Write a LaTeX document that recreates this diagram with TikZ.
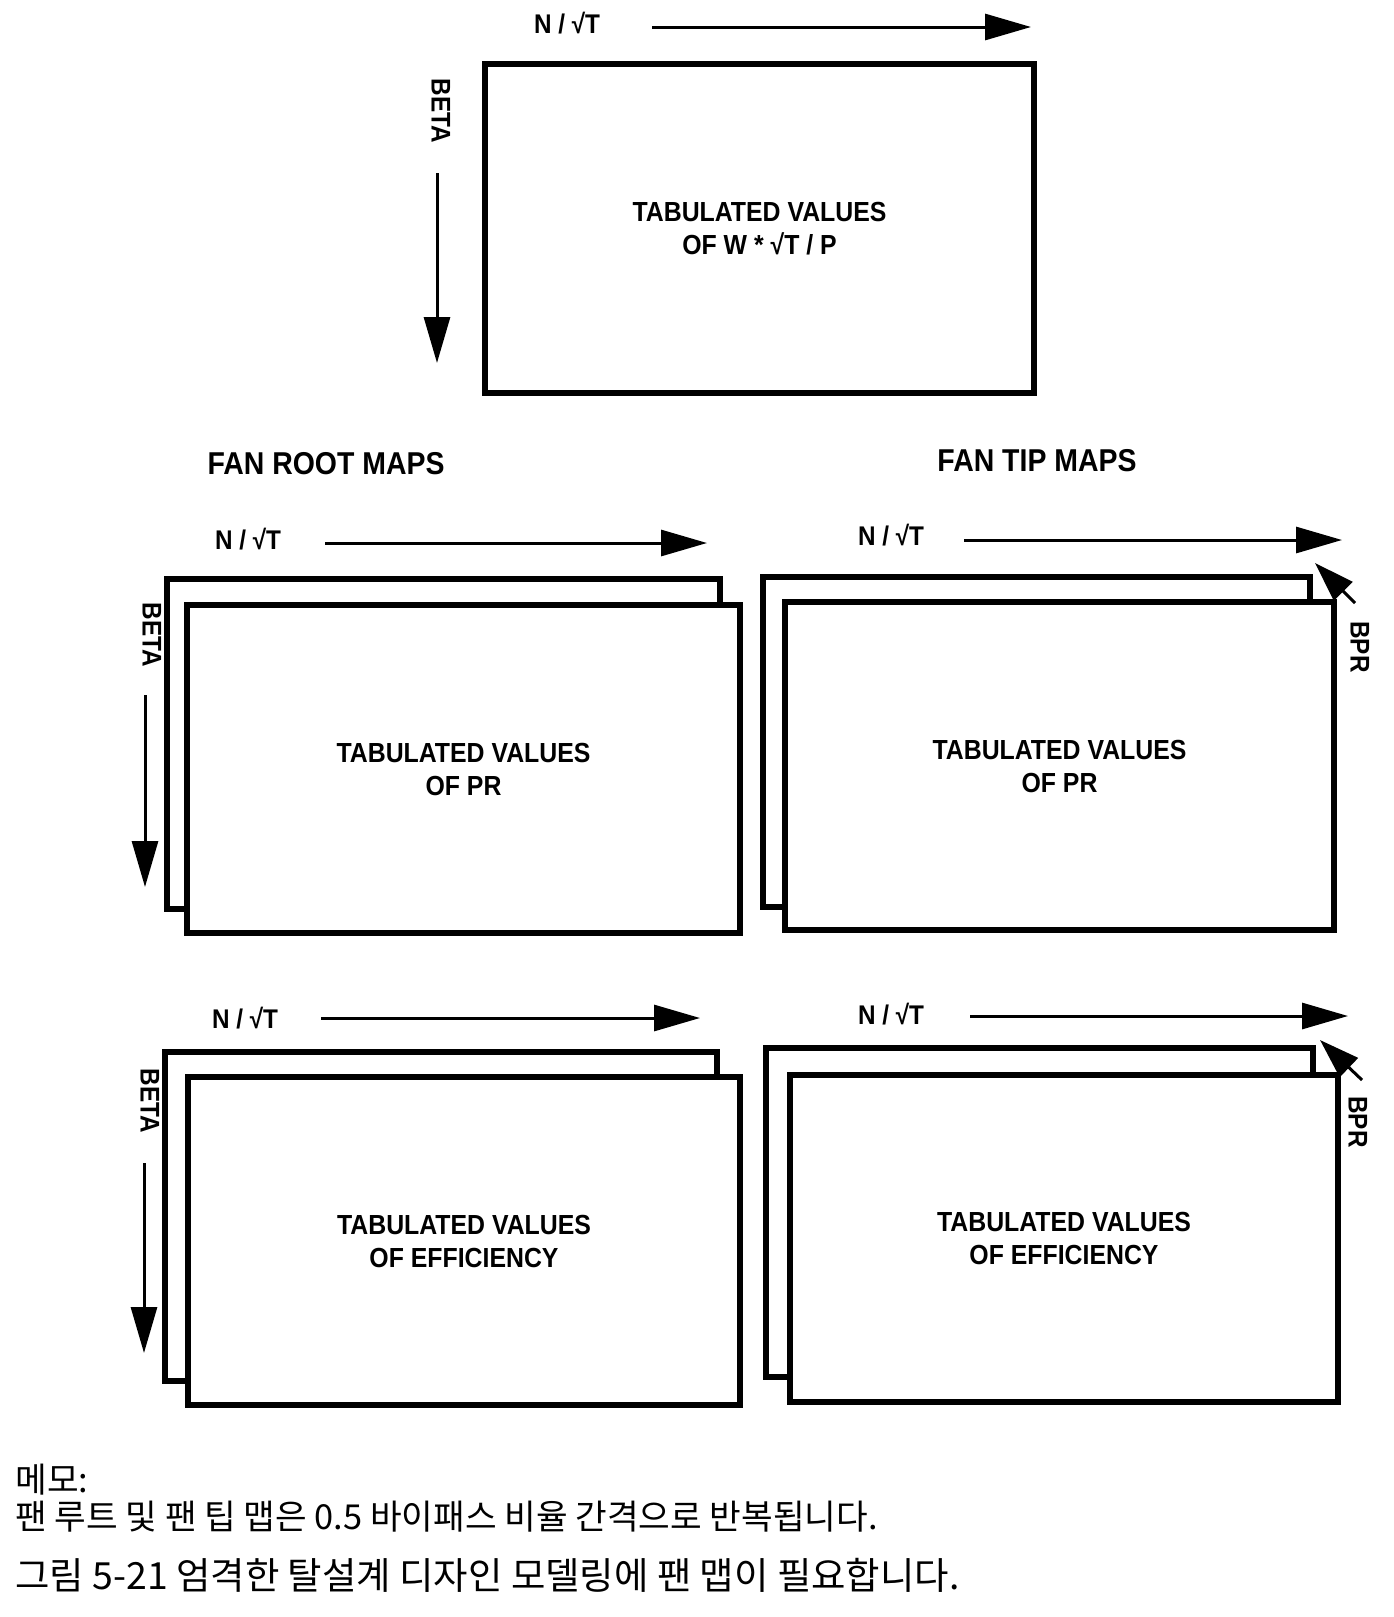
\documentclass[tikz,border=0pt]{standalone}
\usepackage{fontspec}
\setmainfont{Liberation Sans}
\newfontfamily\mapfont[FakeStretch=0.9]{Liberation Sans}
\newfontfamily\kofont{Noto Sans CJK KR}
\usetikzlibrary{arrows.meta}

\begin{document}
\begin{tikzpicture}[
  x=0.5pt,y=-0.5pt,
  card/.style={rectangle,draw,line width=3.4pt,fill=white,align=center,inner sep=0pt,
    font=\mapfont\bfseries\fontsize{13.8}{16.5}\selectfont},
  axlbl/.style={inner sep=0pt,font=\mapfont\bfseries\fontsize{13.5}{15}\selectfont},
  heading/.style={inner sep=0pt,font=\mapfont\bfseries\fontsize{15.8}{18}\selectfont},
  axis/.style={line width=1.5pt,-{Triangle[length=23pt,width=13pt]}},
  note/.style={anchor=west,inner sep=0pt}
]
\useasboundingbox (0,0) rectangle (1393,1617);

% top map
\node[card,minimum width=274.5pt,minimum height=164.5pt] (wmap) at (759.5,228.5) {TABULATED VALUES\\OF W * √T / P};
\node[axlbl] (wn) at (567,23) {N / √T};
\node[axlbl,rotate=-90] (wbeta) at (441,111) {BETA};
\coordinate (wnA) at (652,27);
\coordinate (wnB) at (1031,27);
\coordinate (wbetaA) at (437,173);
\coordinate (wbetaB) at (437,363);
\draw[axis] (wnA) -- (wnB);
\draw[axis] (wbetaA) -- (wbetaB);

\node[heading] (roothead) at (326,464) {FAN ROOT MAPS};
\node[heading] (tiphead) at (1037,461) {FAN TIP MAPS};

% fan root, pressure ratio
\node[card,minimum width=276.5pt,minimum height=165pt] (rootprback) at (443.5,744) {};
\node[card,minimum width=276.5pt,minimum height=164pt] (rootpr) at (463.5,769) {TABULATED VALUES\\OF PR};
\node[axlbl] (rootprn) at (248,539) {N / √T};
\node[axlbl,rotate=-90] (rootprbeta) at (152,635) {BETA};
\coordinate (rootprnA) at (325,543);
\coordinate (rootprnB) at (707,543);
\coordinate (rootprbetaA) at (145,695);
\coordinate (rootprbetaB) at (145,887);
\draw[axis] (rootprnA) -- (rootprnB);
\draw[axis] (rootprbetaA) -- (rootprbetaB);

% fan tip, pressure ratio
\node[card,minimum width=273.5pt,minimum height=165pt] (tipprback) at (1036.5,742) {};
\node[card,minimum width=274.5pt,minimum height=164pt] (tippr) at (1059.5,766) {TABULATED VALUES\\OF PR};
\node[axlbl] (tipprn) at (891,535) {N / √T};
\node[axlbl,rotate=-90] (tipprbpr) at (1360,647) {BPR};
\coordinate (tipprnA) at (964,540);
\coordinate (tipprnB) at (1342,540);
\coordinate (tipprbprA) at (1355,603);
\coordinate (tipprbprB) at (1315,563);
\draw[axis] (tipprnA) -- (tipprnB);
\draw[axis,-{Triangle[length=20pt,width=13pt]}] (tipprbprA) -- (tipprbprB);

% fan root, efficiency
\node[card,minimum width=276pt,minimum height=164.5pt] (rooteffback) at (441,1216.5) {};
\node[card,minimum width=276pt,minimum height=164pt] (rooteff) at (464,1241) {TABULATED VALUES\\OF EFFICIENCY};
\node[axlbl] (rooteffn) at (245,1018) {N / √T};
\node[axlbl,rotate=-90] (rooteffbeta) at (150,1101) {BETA};
\coordinate (rooteffnA) at (321,1018);
\coordinate (rooteffnB) at (700,1018);
\coordinate (rooteffbetaA) at (144,1163);
\coordinate (rooteffbetaB) at (144,1353);
\draw[axis] (rooteffnA) -- (rooteffnB);
\draw[axis] (rooteffbetaA) -- (rooteffbetaB);

% fan tip, efficiency
\node[card,minimum width=273.5pt,minimum height=164.5pt] (tipeffback) at (1039.5,1212.5) {};
\node[card,minimum width=274pt,minimum height=163.5pt] (tipeff) at (1064,1238.5) {TABULATED VALUES\\OF EFFICIENCY};
\node[axlbl] (tipeffn) at (891,1014) {N / √T};
\node[axlbl,rotate=-90] (tipeffbpr) at (1358,1122) {BPR};
\coordinate (tipeffnA) at (970,1016);
\coordinate (tipeffnB) at (1348,1016);
\coordinate (tipeffbprA) at (1362,1080);
\coordinate (tipeffbprB) at (1320,1040);
\draw[axis] (tipeffnA) -- (tipeffnB);
\draw[axis,-{Triangle[length=20pt,width=13pt]}] (tipeffbprA) -- (tipeffbprB);

% notes and caption
\node[note,font=\kofont\fontsize{17.2}{18}\selectfont] (memo) at (15,1480) {메모:};
\node[note,font=\kofont\fontsize{17.2}{18}\selectfont] (memotext) at (15,1517) {팬 루트 및 팬 팁 맵은 0.5 바이패스 비율 간격으로 반복됩니다.};
\node[note,font=\kofont\fontsize{18.7}{20}\selectfont] (caption) at (15,1575) {그림 5-21 엄격한 탈설계 디자인 모델링에 팬 맵이 필요합니다.};
\end{tikzpicture}
\end{document}
